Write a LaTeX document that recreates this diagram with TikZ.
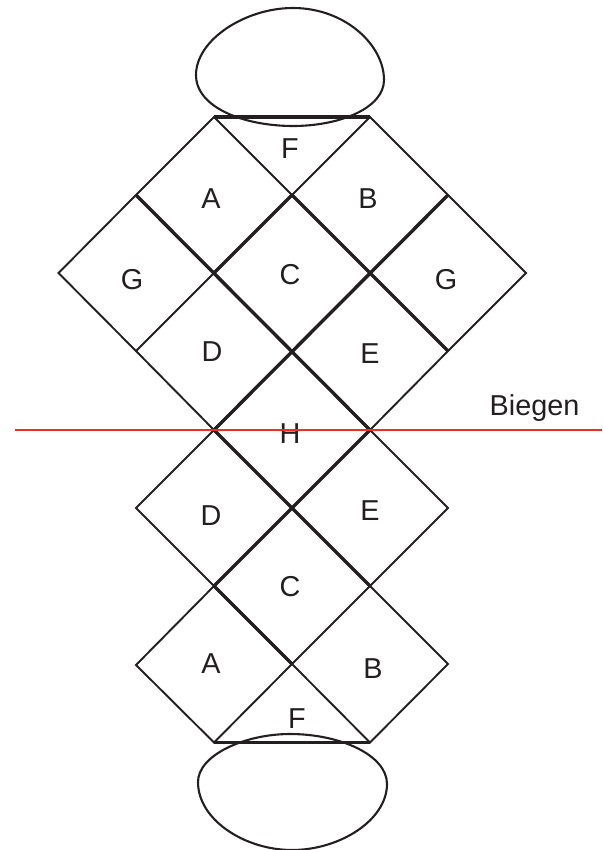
\documentclass[tikz,border=0pt]{standalone}
\usepackage{fontspec}
\setmainfont{Liberation Sans}
\definecolor{ink}{HTML}{231F20}
\definecolor{foldred}{HTML}{EE2E24}
\tikzset{
  thinline/.style={draw=ink,line width=1.9pt,line join=miter},
  thickline/.style={draw=ink,line width=3.4pt},
  blob/.style={draw=ink,line width=2.1pt},
  foldline/.style={draw=foldred,line width=1.5pt},
  lab/.style={text=ink,font=\fontsize{28.8}{31}\selectfont,anchor=base,inner sep=0pt}
}
\begin{document}
\begin{tikzpicture}[x=1pt,y=-1pt]
\useasboundingbox (0,0) rectangle (602,850);
\coordinate (t1) at (214,117); \coordinate (t2) at (370,117);
\coordinate (a1) at (136,195); \coordinate (a2) at (292,195); \coordinate (a3) at (448,195);
\coordinate (b0) at (58.5,273); \coordinate (b1) at (214,273); \coordinate (b2) at (370,273); \coordinate (b3) at (526,273);
\coordinate (c1) at (136,351); \coordinate (c2) at (292,351); \coordinate (c3) at (448,351);
\coordinate (d1) at (214,430); \coordinate (d2) at (370,430);
\coordinate (e1) at (136,508); \coordinate (e2) at (292,508); \coordinate (e3) at (448,508);
\coordinate (f1) at (214,586); \coordinate (f2) at (370,586);
\coordinate (g1) at (136,665); \coordinate (g2) at (292,664); \coordinate (g3) at (448,664);
\coordinate (h1) at (214,742.5); \coordinate (h2) at (370,742.5);
\coordinate (redL) at (15,430); \coordinate (redR) at (602,430);
% blobs
\draw[blob] (196,75) .. controls (196,40) and (245,8) .. (293,8)
  .. controls (345,8) and (384,45) .. (384,80)
  .. controls (384,108) and (340,126) .. (293,126)
  .. controls (245,126) and (196,108) .. (196,75) -- cycle;
\draw[blob] (198,782) .. controls (198,755) and (245,734) .. (290,734)
  .. controls (340,734) and (387,755) .. (387,784)
  .. controls (387,820) and (340,850) .. (292,850)
  .. controls (245,850) and (198,820) .. (198,782) -- cycle;
% thin outline
\draw[thinline] (a1) -- (t1) -- (a2) -- (t2) -- (a3) -- (b3) -- (c3) -- (d2) -- (e3) -- (f2) -- (g3) -- (h2) -- (g2) -- (h1) -- (g1) -- (f1) -- (e1) -- (d1) -- (c1) -- (b0) -- cycle;
\draw[thinline] (c1) -- (b1);
\draw[thinline] (g2) -- (f2);
% thick folds
\draw[thickline] (a1) -- (d2);
\draw[thickline] (a2) -- (c3);
\draw[thickline] (d1) -- (f2);
\draw[thickline] (f1) -- (g2);
\draw[thickline] (b1) -- (a2);
\draw[thickline] (d1) -- (a3);
\draw[thickline] (f1) -- (d2);
\draw[thickline] (t1) -- (t2);
\draw[thickline] (h1) -- (h2);
% labels
\node[lab] (lF1) at (290,159) {F};
\node[lab] (lA1) at (211,208) {A};
\node[lab] (lB1) at (368,208) {B};
\node[lab] (lG1) at (132,289) {G};
\node[lab] (lC1) at (290,284) {C};
\node[lab] (lG2) at (446,289) {G};
\node[lab] (lD1) at (212,361) {D};
\node[lab] (lE1) at (370,363) {E};
\node[lab] (lH) at (290,443) {H};
\node[lab] (lD2) at (211,525) {D};
\node[lab] (lE2) at (370,520) {E};
\node[lab] (lC2) at (290,596) {C};
\node[lab] (lA2) at (211,673) {A};
\node[lab] (lB2) at (373,678) {B};
\node[lab] (lF2) at (297,728) {F};
\node[lab] (lBiegen) at (534.5,415) {Biegen};
\draw[foldline] (redL) -- (redR);
\end{tikzpicture}
\end{document}
